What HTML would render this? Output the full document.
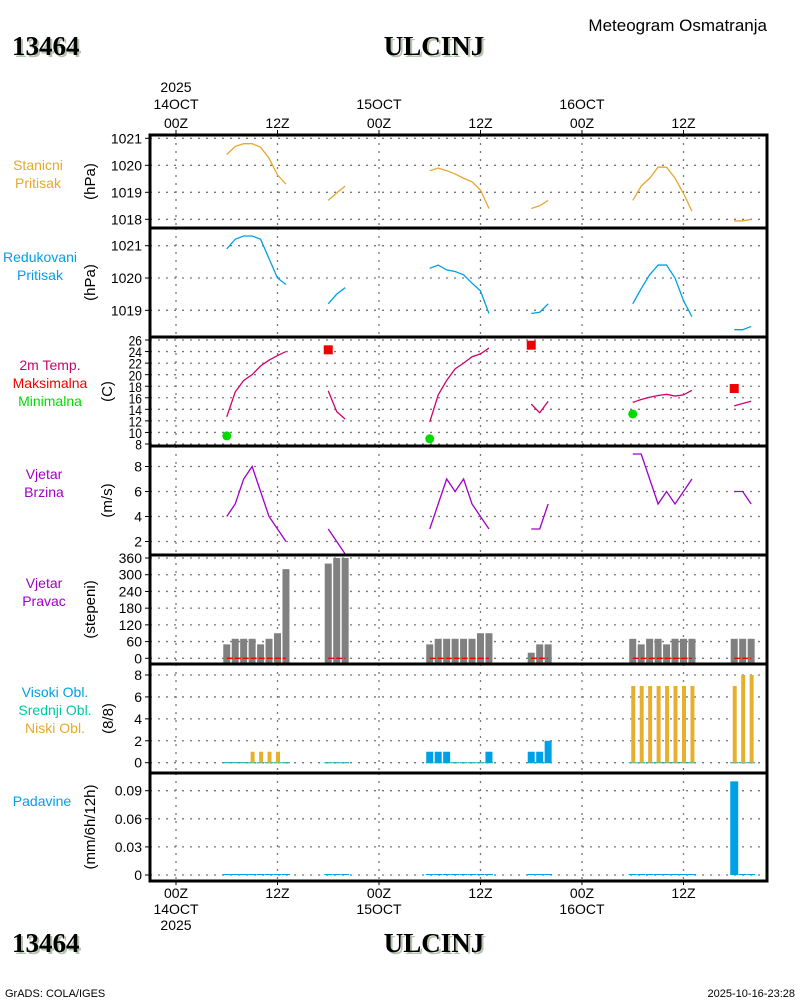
<!DOCTYPE html>
<html><head><meta charset="utf-8"><style>
html,body{margin:0;padding:0;background:#fff;}
svg{display:block;font-family:"Liberation Sans",sans-serif;}
.t{font-size:14px;fill:#000;}
</style></head><body>
<svg id="c" width="800" height="1000" viewBox="0 0 800 1000" xmlns="http://www.w3.org/2000/svg">
<g>
<text x="14" y="57" font-family="Liberation Serif" font-weight="bold" font-size="27" fill="#b4c4ac">13464</text>
<text x="12" y="55" font-family="Liberation Serif" font-weight="bold" font-size="27" fill="#000">13464</text>
<text x="436" y="57" text-anchor="middle" font-family="Liberation Serif" font-weight="bold" font-size="27" fill="#b4c4ac">ULCINJ</text>
<text x="434" y="55" text-anchor="middle" font-family="Liberation Serif" font-weight="bold" font-size="27" fill="#000">ULCINJ</text>
<text x="767" y="31" text-anchor="end" font-size="17" fill="#000">Meteogram Osmatranja</text>
<text x="14" y="954" font-family="Liberation Serif" font-weight="bold" font-size="27" fill="#b4c4ac">13464</text>
<text x="12" y="952" font-family="Liberation Serif" font-weight="bold" font-size="27" fill="#000">13464</text>
<text x="436" y="954" text-anchor="middle" font-family="Liberation Serif" font-weight="bold" font-size="27" fill="#b4c4ac">ULCINJ</text>
<text x="434" y="952" text-anchor="middle" font-family="Liberation Serif" font-weight="bold" font-size="27" fill="#000">ULCINJ</text>
<text x="5" y="997" font-size="11" fill="#000">GrADS: COLA/IGES</text>
<text x="795" y="997" text-anchor="end" font-size="11" fill="#000">2025-10-16-23:28</text>
</g>
</svg>
<script>
// ---- data ----
const hours = [6,7,8,9,10,11,12,13, 18,19,20, 30,31,32,33,34,35,36,37, 42,43,44, 54,55,56,57,58,59,60,61, 66,67,68];
const stnPressure = [1020.4,1020.7,1020.8,1020.8,1020.67,1020.26,1019.64,1019.3, 1018.7,1018.98,1019.23, 1019.8,1019.9,1019.8,1019.68,1019.52,1019.39,1019.08,1018.4, 1018.4,1018.5,1018.7, 1018.7,1019.23,1019.52,1019.93,1019.93,1019.52,1018.96,1018.3, 1017.94,1017.94,1018.0];
const redPressure = [1020.9,1021.2,1021.3,1021.3,1021.2,1020.6,1020.0,1019.8, 1019.2,1019.5,1019.7, 1020.3,1020.4,1020.25,1020.2,1020.1,1019.84,1019.6,1018.9, 1018.9,1018.94,1019.2, 1019.2,1019.67,1020.1,1020.4,1020.4,1020.0,1019.3,1018.8, 1018.4,1018.4,1018.5];
const temp2m = [12.7,17,19,20,21.5,22.5,23.3,24, 17.2,13.6,12.3, 11.8,16.5,19,21,22,23.1,23.6,24.6, 14.9,13.4,15.4, 15.2,15.7,16.1,16.4,16.6,16.3,16.5,17.3, 14.6,15.0,15.4];
const maxHours = [18,42,66];
const maxTemp = [24.3,25.1,17.6];
const minHours = [6,30,54];
const minTemp = [9.4,8.9,13.2];
const windSpeed = [4,5,7,8,6,4,3,2, 3,2,1, 3,5,7,6,7,5,4,3, 3,3,5, 9,9,7,5,6,5,6,7, 6,6,5];
const windDir = [50,70,70,70,50,70,90,320, 340,360,360, 50,70,70,70,70,70,90,90, 20,50,50, 70,50,70,70,50,70,70,70, 70,70,70];
const lowCloud = [0,0,0,1,1,1,1,0, 0,0,0, 0,0,0,0,0,0,0,0, 0,0,0, 7,7,7,7,7,7,7,7, 7,8,8];
const highCloud = [0,0,0,0,0,0,0,0, 0,0,0, 1,1,1,0,0,0,0,1, 1,1,2, 0,0,0,0,0,0,0,0, 0,0,0];
const precip = [0,0,0,0,0,0,0,0, 0,0,0, 0,0,0,0,0,0,0,0, 0,0,0, 0,0,0,0,0,0,0,0, 0.1,0,0];
const timeTicks = [0,12,24,36,48,60];
const timeLabels = ["00Z","12Z","00Z","12Z","00Z","12Z"];
const dayLabels = ["14OCT","","15OCT","","16OCT",""];
const pTicks1 = [1018,1019,1020,1021];
const pTicks2 = [1019,1020,1021];
const tTicks = [8,10,12,14,16,18,20,22,24,26];
const wsTicks = [2,4,6,8];
const wdTicks = [0,60,120,180,240,300,360];
const cTicks = [0,2,4,6,8];
const prTicks = [0,0.03,0.06,0.09];

// ---- layout ----
const svg = document.getElementById('c');
const NS = 'http://www.w3.org/2000/svg';
const X0 = 150, X1 = 767;
const xh = h => 176 + h * 8.458;
function mk(tag, attrs, parent){
  const e = document.createElementNS(NS, tag);
  for (const k in attrs) e.setAttribute(k, attrs[k]);
  (parent || svg).appendChild(e);
  return e;
}
const lin = (v0, y0, v1, y1) => v => y0 + (v - v0) * (y1 - y0) / (v1 - v0);

const panels = [
  {top:135, bot:228, y: lin(1018,219.3,1021,138.3), ticks:pTicks1, fmt:v=>v, title:'(hPa)', tx:95, ly:165, lx:38, name:'station-pressure', labels:[['Stanicni','#e6a82d'],['Pritisak','#e6a82d']]},
  {top:228, bot:337, y: lin(1019,310.3,1021,245.7), ticks:pTicks2, fmt:v=>v, title:'(hPa)', tx:95, ly:257, lx:40, name:'reduced-pressure', labels:[['Redukovani','#00a0e6'],['Pritisak','#00a0e6']]},
  {top:337, bot:446, y: lin(8,444,26,340), ticks:tTicks, fmt:v=>v, title:'(C)', tx:112, ly:365, lx:50, name:'temperature', small:true, labels:[['2m Temp.','#d2006e'],['Maksimalna','#f00000'],['Minimalna','#00dc00']]},
  {top:446, bot:555, y: lin(2,541.5,8,466.5), ticks:wsTicks, fmt:v=>v, title:'(m/s)', tx:112, ly:474, lx:44, name:'wind-speed', labels:[['Vjetar','#a000c8'],['Brzina','#a000c8']]},
  {top:555, bot:664, y: lin(0,658.3,360,558), ticks:wdTicks, fmt:v=>v, title:'(stepeni)', tx:95, ly:583, lx:44, name:'wind-direction', labels:[['Vjetar','#a000c8'],['Pravac','#a000c8']]},
  {top:664, bot:773, y: lin(0,762.7,8,675), ticks:cTicks, fmt:v=>v, title:'(8/8)', tx:113, ly:692, lx:55, name:'cloud-cover', labels:[['Visoki Obl.','#00a0e6'],['Srednji Obl.','#00c8a0'],['Niski Obl.','#e6a82d']]},
  {top:773, bot:881, y: lin(0,875,0.09,790.7), ticks:prTicks, fmt:v=>v===0?'0':v.toFixed(2), title:'(mm/6h/12h)', tx:95, ly:801, lx:42, name:'precipitation', labels:[['Padavine','#00a0e6']]}
];

// grid + ticks
panels.forEach(p => {
  const g = mk('g', {});
  
  
  timeTicks.forEach(t => {
    const l = mk('line', {x1:xh(t), x2:xh(t), y1:p.top, y2:p.bot, stroke:'#777', 'stroke-width':1.3, 'stroke-dasharray':'2,6'}, g);
    
    
  });
  p.ticks.forEach(v => {
    const y = p.y(v);
    const l = mk('line', {x1:X0, x2:X1, y1:y, y2:y, stroke:'#777', 'stroke-width':1.3, 'stroke-dasharray':'2,6'}, g);
    
    
    const tk = mk('line', {x1:X0-5, x2:X0, y1:y, y2:y, stroke:'#000', 'stroke-width':1}, g);
    
    
    const tx = mk('text', {x:X0-8, y:y+5, 'text-anchor':'end', 'font-size': p.small ? 12 : 14, fill:'#000'}, g);
    if (p.small) tx.setAttribute('transform', `translate(0,${-y*0.12}) scale(1,1.12)`);
    tx.textContent = p.fmt(v);
    
    
  });
  const ty = (p.top + p.bot) / 2;
  const at = mk('text', {x:0, y:0, 'text-anchor':'middle', 'font-size':15, fill:'#000', transform:`translate(${p.tx},${ty}) rotate(-90)`}, g);
  at.textContent = p.title;
  
  
  p.labels.forEach((lb, i) => {
    const tl = mk('text', {x:p.lx, y:p.ly + i*18 + 5, 'text-anchor':'middle', 'font-size':14, fill:lb[1]}, g);
    tl.textContent = lb[0];
    
    
  });
});

// helpers for series
function segments(vals){
  const segs = []; let cur = [];
  hours.forEach((h, i) => {
    if (cur.length && h - hours[i-1] !== 1) { segs.push(cur); cur = []; }
    cur.push([h, vals[i]]);
  });
  if (cur.length) segs.push(cur);
  return segs;
}
function drawLine(vals, p, color, name){
  segments(vals).forEach(seg => {
    const pl = mk('polyline', {points: seg.map(q => xh(q[0]) + ',' + p.y(q[1])).join(' '), fill:'none', stroke:color, 'stroke-width':1.3});
    
    
  });
}
drawLine(stnPressure, panels[0], '#e6a82d', 'station-pressure-line');
drawLine(redPressure, panels[1], '#00a0e6', 'reduced-pressure-line');
drawLine(temp2m, panels[2], '#d2006e', 'temperature-line');
drawLine(windSpeed, panels[3], '#a000c8', 'wind-speed-line');

maxHours.forEach((h, i) => {
  const s = mk('rect', {x:xh(h)-4.5, y:panels[2].y(maxTemp[i])-4.5, width:9, height:9, fill:'#f00000'});
  
  
});
minHours.forEach((h, i) => {
  const c = mk('circle', {cx:xh(h), cy:panels[2].y(minTemp[i]), r:4.5, fill:'#00dc00'});
  
  
});

// wind direction bars
const pd = panels[4];
hours.forEach((h, i) => {
  const y = pd.y(windDir[i]);
  const b = mk('rect', {x:xh(h)-3.5, y:y, width:7, height:pd.bot-y, fill:'#808080'});
  
  
});
segments(windDir).forEach(seg => {
  const l = mk('line', {x1:xh(seg[0][0]), x2:xh(seg[seg.length-1][0]), y1:pd.y(0), y2:pd.y(0), stroke:'#f00000', 'stroke-width':1.3, 'stroke-dasharray':'6,2'});
  
  
});

// clouds
const pc = panels[5];
hours.forEach((h, i) => {
  const base = pc.y(0);
  const z = mk('line', {x1:xh(h)-4, x2:xh(h)+4, y1:base, y2:base, stroke:'#20b0b0', 'stroke-width':1.2});
  
  
  if (highCloud[i] > 0) {
    const y = pc.y(highCloud[i]);
    const b = mk('rect', {x:xh(h)-3.5, y:y, width:7, height:base-y, fill:'#00a0e6'});
    
    
  }
  if (lowCloud[i] > 0) {
    const y = pc.y(lowCloud[i]);
    const b = mk('rect', {x:xh(h)-1.5, y:y, width:4, height:base-y, fill:'#e6af2e'});
    
    
  }
});

// precipitation
const pp = panels[6];
hours.forEach((h, i) => {
  const base = pp.y(0);
  const y = pp.y(precip[i]);
  const b = mk('rect', {x:xh(h)-4, y:Math.min(y, base-1), width:8, height:Math.max(base-y, 1), fill:'#00a0e6'});
  
  
});

// frames
panels.forEach(p => {
  const r = mk('rect', {x:X0, y:p.top, width:X1-X0, height:p.bot-p.top, fill:'none', stroke:'#000', 'stroke-width':3});
  
  
});

// time axes
timeTicks.forEach((t, i) => {
  const x = xh(t);
  const a = mk('line', {x1:x, x2:x, y1:130, y2:135, stroke:'#000'});
  
  
  const b = mk('line', {x1:x, x2:x, y1:881, y2:885, stroke:'#000'});
  
  
  const t1 = mk('text', {x:x, y:128, 'text-anchor':'middle', class:'t', 'font-size':15});
  t1.textContent = timeLabels[i];
  
  
  const t2 = mk('text', {x:x, y:898, 'text-anchor':'middle', class:'t', 'font-size':15});
  t2.textContent = timeLabels[i];
  
  
  if (dayLabels[i]) {
    const d1 = mk('text', {x:x, y:109, 'text-anchor':'middle', class:'t', 'font-size':15});
    d1.textContent = dayLabels[i];
    
    
    const d2 = mk('text', {x:x, y:914, 'text-anchor':'middle', class:'t', 'font-size':15});
    d2.textContent = dayLabels[i];
    
    
  }
});
const y1 = mk('text', {x:xh(0), y:92, 'text-anchor':'middle', class:'t', 'font-size':15});
y1.textContent = '2025';


const y2 = mk('text', {x:xh(0), y:930, 'text-anchor':'middle', class:'t', 'font-size':15});
y2.textContent = '2025';


</script>
</body></html>
